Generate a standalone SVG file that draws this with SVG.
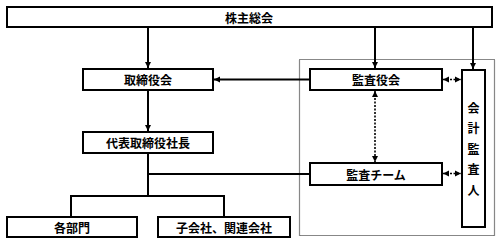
<svg xmlns="http://www.w3.org/2000/svg" width="501" height="243" viewBox="0 0 501 243">
<defs>
<marker id="ah" viewBox="0 0 10 10" refX="10" refY="5" markerWidth="3.2" markerHeight="3.2" orient="auto-start-reverse" markerUnits="strokeWidth"><path d="M0,0 L10,5 L0,10 Z" fill="#000"/></marker>
<marker id="ahs" viewBox="0 0 10 10" refX="10" refY="5" markerWidth="4" markerHeight="4" orient="auto-start-reverse" markerUnits="strokeWidth"><path d="M0,0 L10,5 L0,10 Z" fill="#000"/></marker>
</defs>
<style>
.box{fill:#fff;stroke:#000;stroke-width:2}
.t{font-family:"Noto Sans CJK JP","Noto Sans",sans-serif;font-size:12px;font-weight:bold;text-anchor:middle;dominant-baseline:central;fill:#000}
.ln{fill:none;stroke:#000;stroke-width:2}
.dl{fill:none;stroke:#000;stroke-width:1.6;stroke-dasharray:2,1.5}
</style>
<rect x="299.5" y="59.5" width="195" height="176" fill="none" stroke="#111" stroke-width="1.2" stroke-dasharray="1,1"/>
<g id="connectors">
<path class="ln" d="M148,27 V68" marker-end="url(#ah)"/>
<path class="ln" d="M375,27 V68" marker-end="url(#ah)"/>
<path class="ln" d="M473,27 V69" marker-end="url(#ah)"/>
<path class="ln" d="M310,79.5 H214" marker-end="url(#ah)"/>
<path class="ln" d="M148,90 V131" marker-end="url(#ah)"/>
<path class="ln" d="M148,153 V196 M71,196 H224 M71,195 V217 M224,195 V217 M148,174 H310"/>
<path class="dl" d="M443,79.5 H461" marker-start="url(#ahs)" marker-end="url(#ahs)"/>
<path class="dl" d="M443,173.5 H461" marker-start="url(#ahs)" marker-end="url(#ahs)"/>
<path class="dl" d="M375,91 V162" marker-start="url(#ahs)" marker-end="url(#ahs)"/>
</g>
<g id="shareholders"><rect class="box" x="7" y="7" width="485" height="20"/><text class="t" x="249" y="17">株主総会</text></g>
<g id="board"><rect class="box" x="83" y="69" width="130" height="21"/><text class="t" x="148" y="79.5">取締役会</text></g>
<g id="auditors"><rect class="box" x="310" y="69" width="132" height="21"/><text class="t" x="376" y="79.5">監査役会</text></g>
<g id="accounting-auditor"><rect class="box" x="462" y="70" width="23" height="157"/>
<text class="t" x="473.5" y="107">会</text><text class="t" x="473.5" y="127.5">計</text><text class="t" x="473.5" y="148">監</text><text class="t" x="473.5" y="168.5">査</text><text class="t" x="473.5" y="189">人</text></g>
<g id="president"><rect class="box" x="83" y="132" width="130" height="21"/><text class="t" x="148" y="142.5">代表取締役社長</text></g>
<g id="audit-team"><rect class="box" x="310" y="163" width="132" height="22"/><text class="t" x="376" y="174">監査チーム</text></g>
<g id="departments"><rect class="box" x="7" y="217" width="130" height="20"/><text class="t" x="72" y="227">各部門</text></g>
<g id="subsidiaries"><rect class="box" x="158" y="217" width="132" height="20"/><text class="t" x="224" y="227">子会社、関連会社</text></g>
</svg>
